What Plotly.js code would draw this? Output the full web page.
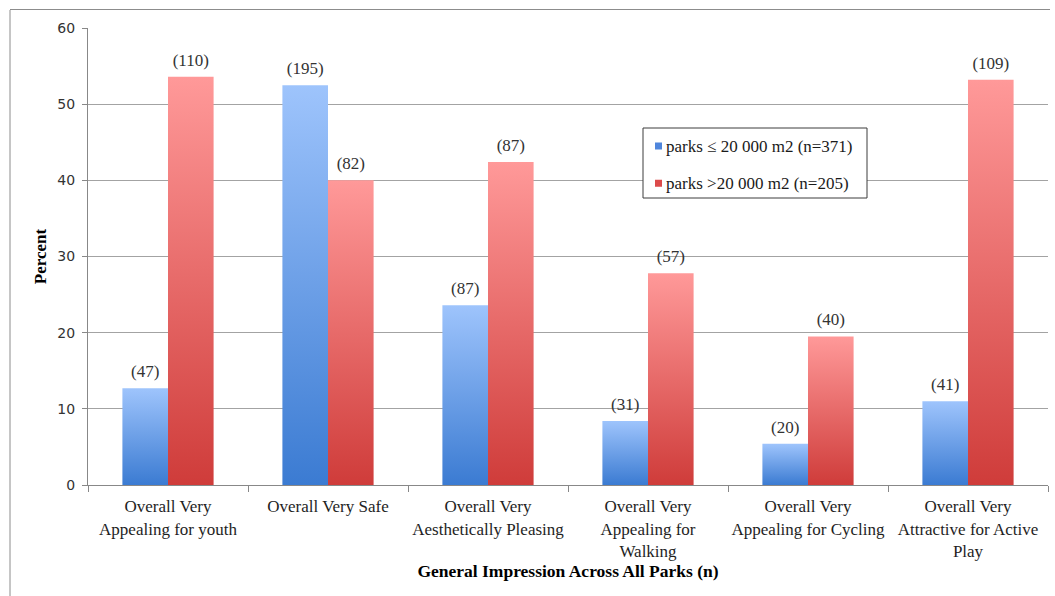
<!DOCTYPE html>
<html>
<head>
<meta charset="utf-8">
<script src="https://cdn.plot.ly/plotly-3.0.1.min.js"></script>
<style>
  html, body { margin: 0; padding: 0; background: #ffffff; }
  #chart { width: 1055px; height: 596px; }
</style>
</head>
<body>
<div id="chart"></div>
<script>
// Park impression categories (x axis)
const categories = [
  "Overall Very<br>Appealing for youth",
  "Overall Very Safe",
  "Overall Very<br>Aesthetically Pleasing",
  "Overall Very<br>Appealing for<br>Walking",
  "Overall Very<br>Appealing for Cycling",
  "Overall Very<br>Attractive for Active<br>Play"
];

// Percent of parks, small parks (<= 20 000 m2)
const smallParksPct = [12.7, 52.5, 23.6, 8.4, 5.4, 11.0];
// Number of small parks per category
const smallParksN = [47, 195, 87, 31, 20, 41];

// Percent of parks, large parks (> 20 000 m2)
const largeParksPct = [53.6, 40.0, 42.4, 27.8, 19.5, 53.2];
// Number of large parks per category
const largeParksN = [110, 82, 87, 57, 40, 109];

const seriesNames = ["parks \u2264 20 000 m2 (n=371)", "parks >20 000 m2 (n=205)"];
const yTicks = [0, 10, 20, 30, 40, 50, 60];

const serif = "Liberation Serif, Times New Roman, serif";
const labelFont = { family: serif, size: 17, color: "#333333" };

const traces = [
  {
    type: "bar",
    name: seriesNames[0],
    legendgroup: "small",
    x: categories,
    y: smallParksPct,
    customdata: smallParksN,
    texttemplate: "(%{customdata})",
    textposition: "outside",
    textfont: labelFont,
    cliponaxis: false,
    marker: { color: "#5b8fe0", line: { width: 0 } },
    hoverinfo: "skip"
  },
  {
    type: "bar",
    name: seriesNames[1],
    legendgroup: "large",
    x: categories,
    y: largeParksPct,
    customdata: largeParksN,
    texttemplate: "(%{customdata})",
    textposition: "outside",
    textfont: labelFont,
    cliponaxis: false,
    marker: { color: "#e05a5a", line: { width: 0 } },
    hoverinfo: "skip"
  }
];

const plotL = 88, plotR = 1048, plotT = 28, plotB = 485;
const W = 1055, H = 596;
const pw = plotR - plotL, ph = plotB - plotT;
const px = v => (v - plotL) / pw;
const py = v => (plotB - v) / ph;

const layout = {
  width: W,
  height: H,
  margin: { l: plotL, r: W - plotR, t: plotT, b: H - plotB },
  paper_bgcolor: "#ffffff",
  plot_bgcolor: "#ffffff",
  barmode: "group",
  bargap: 0.43,
  bargroupgap: 0,
  showlegend: true,
  legend: {
    x: px(626), y: py(127.5),
    xanchor: "left", yanchor: "top",
    bgcolor: "rgba(0,0,0,0)",
    borderwidth: 0,
    font: { family: serif, size: 17, color: "#1a1a1a" },
    traceorder: "grouped",
    tracegroupgap: 12,
    itemwidth: 30
  },
  xaxis: {
    type: "category",
    showline: true,
    linecolor: "#888888",
    linewidth: 1,
    ticks: "outside",
    tickson: "boundaries",
    ticklen: 6,
    tickcolor: "#888888",
    tickangle: 0,
    ticklabelstandoff: 6,
    tickfont: { family: serif, size: 17, color: "#1e1e1e" },
    showgrid: false,
    title: {
      text: "<b>General Impression Across All Parks (n)</b>",
      font: { family: serif, size: 17.5, color: "#000000" },
      standoff: 4
    },
    automargin: false
  },
  yaxis: {
    range: [0, 60],
    tickvals: yTicks,
    showline: true,
    linecolor: "#888888",
    linewidth: 1,
    ticks: "outside",
    ticklen: 5,
    tickcolor: "#888888",
    ticklabelstandoff: 4,
    gridcolor: "#a3a3a3",
    gridwidth: 1,
    zeroline: false,
    tickfont: { family: "DejaVu Sans, Verdana, sans-serif", size: 14, color: "#333333" },
    title: {
      text: "<b>Percent</b>",
      font: { family: serif, size: 17, color: "#000000" },
      standoff: 6
    },
    automargin: false
  },
  shapes: [
    // outer chart frame (left and top edges)
    { type: "line", xref: "paper", yref: "paper",
      x0: px(10), x1: px(10), y0: py(10), y1: py(600),
      line: { color: "#8c8c8c", width: 1 } },
    { type: "line", xref: "paper", yref: "paper",
      x0: px(10), x1: px(1050), y0: py(9.5), y1: py(9.5),
      line: { color: "#8c8c8c", width: 1 } },
    // legend box
    { type: "rect", xref: "paper", yref: "paper", layer: "above",
      x0: px(643), x1: px(867), y0: py(128), y1: py(198),
      fillcolor: "#ffffff",
      line: { color: "#3c3c3c", width: 1 } }
  ]
};

const gradients = [
  { id: "gradSmall", top: "#9ec4fc", bottom: "#3b7bd2" },
  { id: "gradLarge", top: "#ff9999", bottom: "#cf3c3a" }
];
const legendSwatch = ["#4f86dc", "#dc4a4a"];

function applyGradients(gd) {
  const svg = gd.querySelector(".main-svg");
  if (!svg) return;
  let defs = svg.querySelector("defs");
  if (!defs) {
    defs = document.createElementNS("http://www.w3.org/2000/svg", "defs");
    svg.insertBefore(defs, svg.firstChild);
  }
  gradients.forEach(g => {
    if (defs.querySelector("#" + g.id)) return;
    const lg = document.createElementNS("http://www.w3.org/2000/svg", "linearGradient");
    lg.setAttribute("id", g.id);
    lg.setAttribute("x1", "0"); lg.setAttribute("y1", "0");
    lg.setAttribute("x2", "0"); lg.setAttribute("y2", "1");
    const s1 = document.createElementNS("http://www.w3.org/2000/svg", "stop");
    s1.setAttribute("offset", "0"); s1.setAttribute("stop-color", g.top);
    const s2 = document.createElementNS("http://www.w3.org/2000/svg", "stop");
    s2.setAttribute("offset", "1"); s2.setAttribute("stop-color", g.bottom);
    lg.appendChild(s1); lg.appendChild(s2);
    defs.appendChild(lg);
  });
  gd.querySelectorAll(".barlayer .trace.bars").forEach((tg, i) => {
    const g = gradients[i];
    if (!g) return;
    tg.querySelectorAll(".point path").forEach(p => {
      p.style.fill = "url(#" + g.id + ")";
    });
    // lift the count labels a little further above the bars
    tg.querySelectorAll(".point text.bartext").forEach(t => {
      if (t.dataset.lifted) return;
      const prev = t.getAttribute("transform") || "";
      t.setAttribute("transform", "translate(0,-4) " + prev);
      t.dataset.lifted = "1";
    });
  });

  // small square legend swatches sitting just before the entry text
  gd.querySelectorAll(".legend .traces").forEach((item, i) => {
    const pts = item.querySelector(".legendpoints");
    const txt = item.querySelector(".legendtext");
    if (!pts || !txt || pts.dataset.done) return;
    const path = pts.querySelector("path");
    if (!path) return;
    path.setAttribute("d", "M3.5,3.5H-3.5V-3.5H3.5Z");
    path.style.fill = legendSwatch[i] || path.style.fill;
    path.style.stroke = "none";
    const pb = path.getBoundingClientRect();
    const tb = txt.getBoundingClientRect();
    const cx = pb.left + pb.width / 2;
    const target = tb.left - 7.5;
    const prev = pts.getAttribute("transform") || "";
    pts.setAttribute("transform", "translate(" + (target - cx) + ",1) " + prev);
    pts.dataset.done = "1";
  });
}

const gd = document.getElementById("chart");
Plotly.newPlot(gd, traces, layout, { displayModeBar: false, staticPlot: true }).then(() => {
  applyGradients(gd);
  gd.on("plotly_afterplot", () => applyGradients(gd));
});
</script>
</body>
</html>
